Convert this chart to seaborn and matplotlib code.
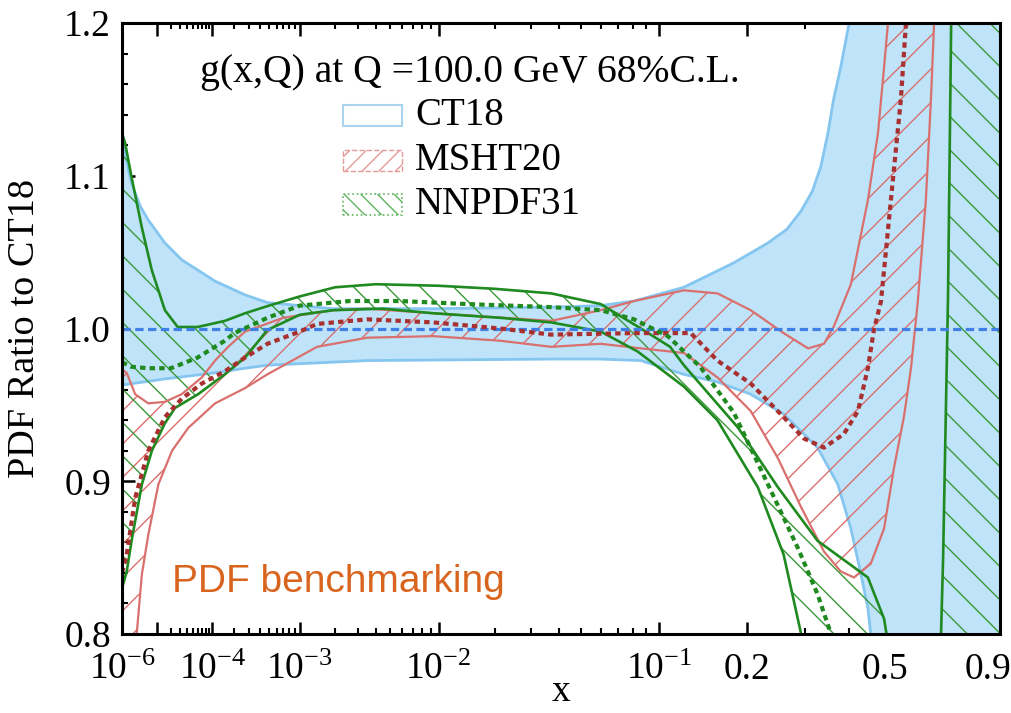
import numpy as np
import matplotlib
matplotlib.use("Agg")
import matplotlib.pyplot as plt
import seaborn as sns
from matplotlib.patches import Rectangle
from matplotlib.ticker import FixedLocator, FixedFormatter

# ---------------- data ----------------
ct18_x_up = [1e-6, 1.5e-6, 2.1e-6, 3.8e-6, 6.2e-6, 1.5e-5, 3.2e-5, 1.1e-4, 2.7e-4, 4.8e-4, 1.9e-3,
             1e-2, 0.037, 0.06, 0.081, 0.123, 0.181, 0.232, 0.265, 0.292, 0.315, 0.333, 0.349,
             0.362, 0.379, 0.40, 0.45, 0.5, 0.962]
ct18_up = [1.128, 1.108, 1.095, 1.080, 1.071, 1.056, 1.045, 1.031, 1.022, 1.017, 1.013,
           1.013, 1.014, 1.015, 1.018, 1.027, 1.043, 1.056, 1.065, 1.077, 1.090, 1.106, 1.128,
           1.15, 1.171, 1.2, 1.5, 2.0, 2.0]
ct18_x_lo = [1e-6, 1.5e-5, 1.1e-4, 2.7e-4, 4.8e-4, 3.5e-3, 0.037, 0.06, 0.086, 0.123, 0.16, 0.205,
             0.259, 0.326, 0.372, 0.4045, 0.431, 0.45, 0.458, 0.5, 0.962]
ct18_lo = [0.963, 0.967, 0.971, 0.974, 0.976, 0.979, 0.980, 0.980, 0.979, 0.970, 0.965, 0.957,
           0.944, 0.922, 0.898, 0.869, 0.839, 0.817, 0.800, 0.5, 0.5]
ct18_x_c = [1e-6, 0.962]
ct18_c = [1.0, 1.0]

msht_x_up = [1e-6, 1.46e-6, 2.7e-6, 6.2e-6, 1.5e-5, 3.2e-5, 7e-5, 1.1e-4, 1.66e-4, 2.7e-4, 6.95e-4,
             1.94e-3, 3.5e-3, 9.3e-3, 0.037, 0.06, 0.081, 0.123, 0.16, 0.205, 0.259, 0.306, 0.34,
             0.362, 0.4045, 0.45, 0.479, 0.497, 0.509, 0.53]
msht_up = [0.973, 0.971, 0.957, 0.951, 0.952, 0.957, 0.968, 0.979, 0.988, 0.998, 1.007,
           1.012, 1.013, 1.010, 1.005, 1.012, 1.018, 1.025, 1.023, 1.012, 0.997, 0.987, 0.990,
           1.001, 1.029, 1.084, 1.128, 1.171, 1.2, 1.3]
msht_x_lo = [1e-6, 2e-6, 3.0e-6, 4.2e-6, 6.2e-6, 1.08e-5, 2.1e-5, 4.2e-5, 1.1e-4, 2.7e-4, 4.8e-4,
             1.42e-3, 3.5e-3, 9.3e-3, 0.0214, 0.037, 0.06, 0.086, 0.123, 0.16, 0.205, 0.249, 0.292,
             0.34, 0.379, 0.4125, 0.458, 0.497, 0.528, 0.56, 0.584, 0.608, 0.637, 0.656, 0.668, 0.69]
msht_lo = [0.62, 0.74, 0.800, 0.839, 0.865, 0.898, 0.920, 0.935, 0.951, 0.961, 0.970,
           0.988, 0.994, 0.995, 0.992, 0.988, 0.990, 0.987, 0.984, 0.968, 0.946, 0.915, 0.883,
           0.854, 0.841, 0.837, 0.846, 0.869, 0.909, 0.942, 0.974, 1.018, 1.084, 1.15, 1.2, 1.35]
msht_x_c = [1e-6, 1.46e-6, 2.7e-6, 6.2e-6, 1.5e-5, 3.2e-5, 7e-5, 1.5e-4, 2.7e-4, 4.8e-4, 1.0e-3,
            1.42e-3, 3.5e-3, 9.3e-3, 0.0214, 0.037, 0.081, 0.13, 0.16, 0.205, 0.259, 0.2975, 0.34,
            0.387, 0.423, 0.45, 0.467, 0.488, 0.518, 0.55, 0.567, 0.59]
msht_c = [0.840, 0.852, 0.889, 0.920, 0.942, 0.954, 0.964, 0.972, 0.981, 0.990, 0.998,
          1.003, 1.006, 1.004, 1.000, 0.996, 0.997, 0.997, 0.979, 0.964, 0.942, 0.928, 0.922,
          0.931, 0.946, 0.974, 0.999, 1.018, 1.084, 1.15, 1.2, 1.3]

nn_x_up = [1e-6, 1.3e-6, 2.1e-6, 4.2e-6, 7.6e-6, 1.5e-5, 2.7e-5, 6e-5, 1.5e-4, 2.7e-4, 5e-4,
           1e-3, 2e-3, 4e-3, 1e-2, 0.02, 0.037, 0.06, 0.086, 0.11, 0.123, 0.15, 0.187, 0.249,
           0.326, 0.40, 0.45, 0.497, 0.52, 0.6, 0.68, 0.695, 0.703, 0.723, 0.736, 0.76, 0.962]
nn_up = [1.128, 1.121, 1.099, 1.066, 1.038, 1.012, 1.001, 1.001, 1.005, 1.010, 1.015,
         1.021, 1.027, 1.029, 1.028, 1.026, 1.023, 1.016, 1.000, 0.988, 0.976, 0.957, 0.935, 0.896,
         0.861, 0.846, 0.837, 0.810, 0.78, 0.6, 0.6, 0.8, 0.848, 1.02, 1.2, 1.6, 2.0]
nn_x_lo = [1e-6, 1.46e-6, 2.1e-6, 4.2e-6, 7.6e-6, 1.5e-5, 2.4e-5, 6.1e-5, 1.5e-4, 2.7e-4, 4.8e-4,
           1e-3, 1.94e-3, 4.5e-3, 9.3e-3, 0.0214, 0.037, 0.06, 0.0835, 0.123, 0.16, 0.216, 0.259,
           0.292, 0.32, 0.4, 0.962]
nn_lo = [0.83, 0.841, 0.861, 0.898, 0.920, 0.938, 0.948, 0.957, 0.970, 0.981, 0.999,
         1.009, 1.012, 1.013, 1.010, 1.007, 1.004, 0.998, 0.985, 0.962, 0.940, 0.896, 0.852,
         0.800, 0.7, 0.4, 0.4]
nn_x_c = [1e-6, 2e-6, 6e-6, 2e-5, 6e-5, 1.5e-4, 2e-4, 4.8e-4, 1e-3, 2.6e-3, 5.8e-3, 0.0145,
          0.037, 0.06, 0.081, 0.108, 0.123, 0.14, 0.181, 0.232, 0.286, 0.326, 0.356, 0.4]
nn_c = [0.978, 0.975, 0.974, 0.974, 0.981, 0.992, 0.997, 1.007, 1.015, 1.018, 1.018, 1.016,
        1.014, 1.012, 1.006, 0.995, 0.985, 0.975, 0.945, 0.898, 0.856, 0.826, 0.8, 0.75]

x_major = [1e-6, 1e-5, 1e-4, 1e-3, 1e-2, 0.1, 0.2, 0.5, 0.9]
x_major_labels = [r"$10^{-6}$", "", r"$10^{-4}$", r"$10^{-3}$", r"$10^{-2}$", r"$10^{-1}$",
                  "0.2", "0.5", "0.9"]
x_minor = ([m * 10.0 ** e for e in (-5, -4, -3, -2) for m in range(2, 10)]
           + [0.3, 0.4, 0.6, 0.7, 0.8])
y_major = [0.8, 0.9, 1.0, 1.1, 1.2]
y_major_labels = ["0.8", "0.9", "1.0", "1.1", "1.2"]
y_minor = [0.82, 0.84, 0.86, 0.88, 0.92, 0.94, 0.96, 0.98, 1.02, 1.04, 1.06, 1.08,
           1.12, 1.14, 1.16, 1.18]

legend_labels = ["CT18", "MSHT20", "NNPDF31"]

# ---------------- style ----------------
sns.set_theme(style="ticks")
plt.rcParams["font.family"] = ["Liberation Serif", "DejaVu Serif"]
plt.rcParams["mathtext.fontset"] = "custom"
plt.rcParams["mathtext.rm"] = "Liberation Serif"
plt.rcParams["mathtext.default"] = "regular"
plt.rcParams["hatch.linewidth"] = 1.0

C_BLUE_FILL = "#bfe3f9"
C_BLUE_EDGE = "#84c6f0"
C_BLUE_C = "#3f7fe6"
C_RED = "#d9706e"
C_RED_C = "#a83030"
C_GREEN = "#1f8a1f"
C_GREEN_H = "#3a9a3a"
C_ORANGE = "#d9641e"

fig = plt.figure(figsize=(10.12, 7.13), dpi=100)
ax = fig.add_axes([0.1206, 0.1108, 0.8676, 0.8569])


def fwd(x):
    x = np.asarray(x, dtype=float)
    return np.sign(x) * np.abs(x) ** 0.2


def inv(t):
    t = np.asarray(t, dtype=float)
    return np.sign(t) * np.abs(t) ** 5


ax.set_xscale("function", functions=(fwd, inv))


def band(xu, yu, xl, yl, **kw):
    xs = np.r_[np.asarray(xu), np.asarray(xl)[::-1]]
    ys = np.r_[np.asarray(yu), np.asarray(yl)[::-1]]
    ax.fill(xs, ys, **kw)


def line(x, y, **kw):
    sns.lineplot(x=x, y=y, ax=ax, estimator=None, sort=False, legend=False, **kw)


# CT18 band
band(ct18_x_up, ct18_up, ct18_x_lo, ct18_lo, facecolor=C_BLUE_FILL, edgecolor="none", zorder=1)
line(ct18_x_up, ct18_up, color=C_BLUE_EDGE, linewidth=2.0, zorder=2)
line(ct18_x_lo, ct18_lo, color=C_BLUE_EDGE, linewidth=2.0, zorder=2)

# MSHT20 band (hatched)
band(msht_x_up, msht_up, msht_x_lo, msht_lo, facecolor="none", edgecolor=C_RED,
     hatch="/", linewidth=0, zorder=3)
# NNPDF31 band (hatched)
band(nn_x_up, nn_up, nn_x_lo, nn_lo, facecolor="none", edgecolor=C_GREEN_H,
     hatch="\\", linewidth=0, zorder=3)

line(msht_x_up, msht_up, color=C_RED, linewidth=1.6, zorder=4)
line(msht_x_lo, msht_lo, color=C_RED, linewidth=1.6, zorder=4)
line(nn_x_up, nn_up, color=C_GREEN, linewidth=1.9, zorder=4)
line(nn_x_lo, nn_lo, color=C_GREEN, linewidth=1.9, zorder=4)

line(ct18_x_c, ct18_c, color=C_BLUE_C, linewidth=2.3, linestyle=(0, (2.6, 1.4)), zorder=5)
line(msht_x_c, msht_c, color=C_RED_C, linewidth=3.0, linestyle=(0, (1.3, 1.0)), zorder=6)
line(nn_x_c, nn_c, color=C_GREEN, linewidth=3.0, linestyle=(0, (1.3, 1.0)), zorder=6)

ax.set_xlim(1e-6, 0.962)
ax.set_ylim(0.8, 1.2)

ax.xaxis.set_major_locator(FixedLocator(x_major))
ax.xaxis.set_major_formatter(FixedFormatter(x_major_labels))
ax.xaxis.set_minor_locator(FixedLocator(x_minor))
ax.xaxis.set_minor_formatter(FixedFormatter([""] * len(x_minor)))
ax.yaxis.set_major_locator(FixedLocator(y_major))
ax.yaxis.set_major_formatter(FixedFormatter(y_major_labels))
ax.yaxis.set_minor_locator(FixedLocator(y_minor))

ax.tick_params(which="both", direction="in", top=True, right=True, color="black",
               labelsize=27, labelcolor="black")
ax.tick_params(which="major", length=9, width=1.8)
ax.tick_params(which="minor", length=4.5, width=1.5)
ax.tick_params(axis="x", which="major", pad=13)
ax.tick_params(axis="y", which="major", pad=8)
for s in ax.spines.values():
    s.set_linewidth(2.2)
    s.set_color("black")
    s.set_zorder(10)

ax.set_xlabel("x", fontsize=27, labelpad=-9, color="black")
ax.set_ylabel("PDF Ratio to CT18", fontsize=27.5, labelpad=16, color="black")

ax.text(0.089, 0.903, "g(x,Q) at Q =100.0 GeV 68%C.L.", transform=ax.transAxes,
        fontsize=28.5, va="baseline", ha="left", color="black", zorder=12)
ax.text(0.057, 0.069, "PDF benchmarking", transform=ax.transAxes, fontsize=28,
        family="Liberation Sans", color=C_ORANGE, va="baseline", ha="left", zorder=12)

# legend drawn as key boxes + labels (axes coordinates)
key_x, key_w, key_h = 0.2517, 0.0672, 0.0344
key_bottoms = [0.8314, 0.7578, 0.6858]
key_styles = [
    dict(facecolor="white", edgecolor="#a8d4f0", linewidth=1.5, linestyle="-"),
    dict(facecolor="white", edgecolor="#e39a98", hatch="//", linewidth=1.0, linestyle="--"),
    dict(facecolor="white", edgecolor="#5fb45f", hatch="\\\\", linewidth=1.2, linestyle=":"),
]
for yb, st, lab in zip(key_bottoms, key_styles, legend_labels):
    ax.add_patch(Rectangle((key_x, yb), key_w, key_h, transform=ax.transAxes,
                           zorder=12, **st))
    ax.text(0.3337, yb + key_h / 2, lab, transform=ax.transAxes, fontsize=28,
            va="center", ha="left", color="black", zorder=12)

fig.savefig("out.png", dpi=100)
